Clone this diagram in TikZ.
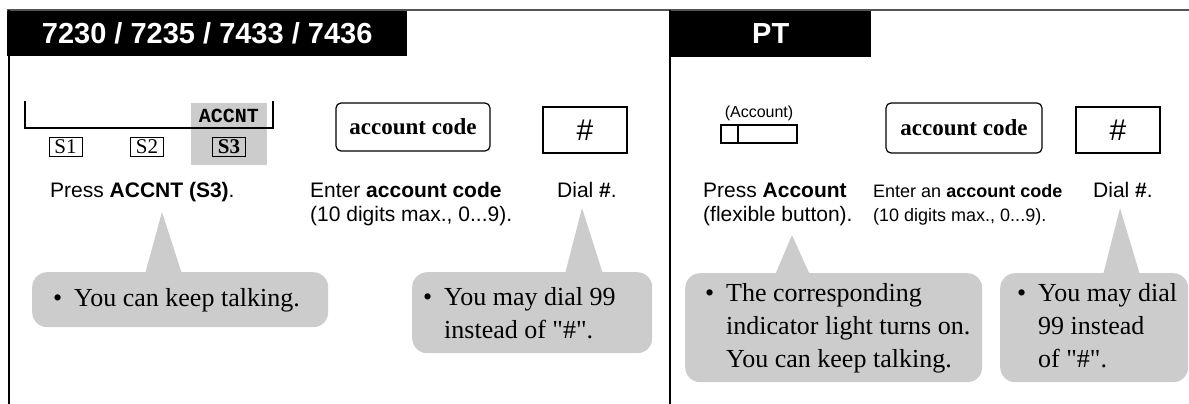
\documentclass[tikz,border=0pt]{standalone}
\usepackage{fontspec}
\setmainfont{Liberation Serif}
\setsansfont{Liberation Sans}
\setmonofont{Liberation Mono}
\usetikzlibrary{positioning,calc}

\definecolor{balloongray}{HTML}{CCCCCC}
\definecolor{framegray}{HTML}{555555}
\newcommand{\balloonbullet}{\makebox[21pt][l]{\textbullet}}
\newcommand{\balloonindent}{\hspace*{21pt}}

\begin{document}
\begin{tikzpicture}[x=1pt,y=-1pt,
  header/.style={fill=black,text=white,anchor=north west,inner sep=0pt,font=\sffamily\bfseries\fontsize{29}{29}\selectfont},
  steptext/.style={anchor=base west,inner sep=0pt,align=left,font=\sffamily\fontsize{21}{24}\selectfont},
  codebox/.style={draw,rounded corners=5pt,line width=1.2pt,minimum width=154pt,minimum height=48pt,inner sep=0pt,font=\bfseries\fontsize{23}{23}\selectfont},
  hashbox/.style={draw,line width=2.2pt,minimum width=84pt,minimum height=46pt,inner sep=0pt,font=\sffamily\fontsize{30}{30}\selectfont},
  softkey/.style={draw,line width=1pt,minimum width=33pt,minimum height=19pt,inner sep=0pt,font=\fontsize{21}{21}\selectfont},
  balloon/.style={fill=balloongray,rounded corners=15pt,inner sep=0pt,anchor=north west},
  balloontext/.style={anchor=base west,inner sep=0pt,align=left,font=\fontsize{26}{33}\selectfont}]
\useasboundingbox (0,0) rectangle (1189,404);

% frame and headers
\node[header,minimum width=400pt,minimum height=46pt] (hdrkx) at (7,10) {7230 / 7235 / 7433 / 7436};
\node[header,minimum width=201pt,minimum height=47pt] (hdrpt) at (670,10) {PT};
\draw[framegray,line width=1.5pt] (7,10) -- (1189,10);
\draw[line width=2pt] (8.5,10) -- (8.5,404);
\draw[line width=2pt] (670,10) -- (670,404);

% KX-T7230 keys
\fill[balloongray] (191,103) rectangle (267,165);
\draw[line width=1.5pt] (25,101) -- (25,128) -- (273,128) -- (273,101);
\node[inner sep=0pt,font=\ttfamily\bfseries\fontsize{20}{20}\selectfont] (accnt) at (229,116) {ACCNT};
\node[softkey] (s1) at (65.5,146.5) {S1};
\node[softkey] (s2) at (147,146.5) {S2};
\node[softkey,font=\bfseries\fontsize{21}{21}\selectfont] (s3) at (229,146.5) {S3};
\node[codebox] (codekx) at (413,127) {account code};
\node[hashbox] (hashkx) at (585,130) {\#};

% multi-line texts are placed at the baseline of their last line
\node[steptext] (presskx) at (50,197) {Press \textbf{ACCNT (S3)}.};
\node[steptext] (enterkx) at (310,221) {Enter \textbf{account code}\\(10 digits max., 0...9).};
\node[steptext] (dialkx) at (557,197) {Dial \textbf{\#}.};

% KX-T7230 notes
\node[balloon,minimum width=296pt,minimum height=55pt] (notekx1) at (32,272) {};
\fill[balloongray] (145,274) -- (162,212) -- (182,274) -- cycle;
\node[balloontext] (notekx1txt) at (53,306) {\balloonbullet You can keep talking.};
\node[balloon,minimum width=240pt,minimum height=81pt] (notekx2) at (412,272) {};
\fill[balloongray] (565,274) -- (582,208) -- (603,274) -- cycle;
\node[balloontext] (notekx2txt) at (423,338) {\balloonbullet You may dial 99\\\balloonindent instead of \textquotedbl\#\textquotedbl.};

% PT keys
\node[draw,line width=2pt,minimum width=76pt,minimum height=18pt,inner sep=0pt] (acckey) at (759,134) {};
\draw[line width=2pt] ($(acckey.north west)+(18,0)$) -- ($(acckey.south west)+(18,0)$);
\node[above=3pt of acckey,inner sep=0pt,font=\sffamily\fontsize{16}{16}\selectfont] (acclabel) {(Account)};
\node[codebox,minimum width=156pt,minimum height=50pt] (codept) at (964,128) {account code};
\node[hashbox] (hashpt) at (1118,130) {\#};

\node[steptext] (presspt) at (703,221) {Press \textbf{Account}\\(flexible button).};
\node[steptext,font=\sffamily\fontsize{18}{24}\selectfont] (enterpt) at (873,221) {Enter an \textbf{account code}\\(10 digits max., 0...9).};
\node[steptext] (dialpt) at (1093,197) {Dial \textbf{\#}.};

% PT notes
\node[balloon,minimum width=297pt,minimum height=109pt] (notept1) at (685,273) {};
\fill[balloongray] (775,275) -- (792,235) -- (810,275) -- cycle;
\node[balloontext] (notept1txt) at (705,367) {\balloonbullet The corresponding\\\balloonindent indicator light turns on.\\\balloonindent You can keep talking.};
\node[balloon,minimum width=188pt,minimum height=109pt] (notept2) at (1000,273) {};
\fill[balloongray] (1103,275) -- (1120,208) -- (1140,275) -- cycle;
\node[balloontext] (notept2txt) at (1017,367) {\balloonbullet You may dial\\\balloonindent 99 instead\\\balloonindent of \textquotedbl\#\textquotedbl.};
\end{tikzpicture}
\end{document}
